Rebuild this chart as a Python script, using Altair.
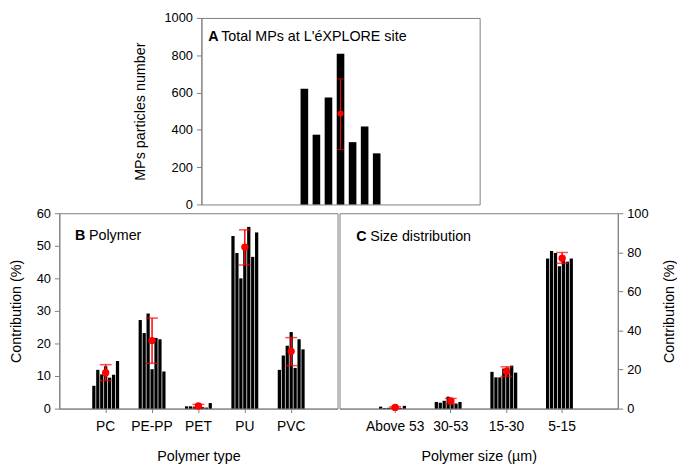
import altair as alt
import pandas as pd

# ---------------- data ----------------
samples = ["S1", "S2", "S3", "S4", "S5", "S6", "S7"]

# Panel A: total MPs per sample
total_mps = [620, 374, 573, 808, 334, 418, 274]
total_mean = [487]
total_lo = [295]
total_hi = [673]

# Panel B: polymer contribution (%) per sample
polymers = ["PC", "PE-PP", "PET", "PU", "PVC"]
poly_pc = [7.0, 11.9, 10.5, 13.0, 9.5, 10.4, 14.6]
poly_pepp = [27.2, 23.2, 29.2, 12.1, 21.7, 21.3, 11.4]
poly_pet = [0.7, 0.7, 0.6, 1.0, 0.5, 0.3, 1.7]
poly_pu = [53.0, 47.8, 40.0, 50.0, 55.8, 46.6, 54.1]
poly_pvc = [11.9, 16.3, 19.3, 23.5, 12.5, 21.3, 18.2]
poly_mean = [11.0, 20.9, 0.8, 49.6, 17.6]
poly_lo = [8.6, 13.9, 0.3, 44.1, 13.2]
poly_hi = [13.5, 27.8, 1.3, 54.9, 21.8]

# Panel C: size distribution (%) per sample
sizes = ["Above 53", "30-53", "15-30", "5-15"]
size_a53 = [1.0, 0.3, 0.4, 0.5, 0.3, 0.3, 1.4]
size_3053 = [3.4, 3.0, 4.0, 6.1, 2.5, 2.5, 3.4]
size_1530 = [18.8, 16.0, 16.0, 20.5, 21.0, 22.0, 18.4]
size_515 = [76.8, 80.7, 79.6, 72.9, 76.2, 75.2, 76.8]
size_mean = [0.6, 3.9, 19.0, 77.0]
size_lo = [0.2, 2.5, 16.5, 74.4]
size_hi = [1.0, 5.2, 21.4, 79.9]

# ---------------- tables ----------------
df_a = pd.DataFrame({"sample": samples, "value": total_mps})
df_a_err = pd.DataFrame({"sample": ["S4"], "mean": total_mean, "lo": total_lo, "hi": total_hi})

poly_series = [poly_pc, poly_pepp, poly_pet, poly_pu, poly_pvc]
df_b = pd.DataFrame([
    {"cat": p, "sample": s, "value": v}
    for p, vals in zip(polymers, poly_series)
    for s, v in zip(samples, vals)
])
df_b_err = pd.DataFrame({"cat": polymers, "mean": poly_mean, "lo": poly_lo, "hi": poly_hi})

size_series = [size_a53, size_3053, size_1530, size_515]
df_c = pd.DataFrame([
    {"cat": c, "sample": s, "value": v}
    for c, vals in zip(sizes, size_series)
    for s, v in zip(samples, vals)
])
df_c_err = pd.DataFrame({"cat": sizes, "mean": size_mean, "lo": size_lo, "hi": size_hi})

one = pd.DataFrame({"k": [0]})

GRAY = "#7f7f7f"
RED = "#ff0000"
W = 282
HA = 189
HB = 198
A_SPAN = 81  # pixel span occupied by the seven bars of panel A
TFS = 14.5   # panel title / axis title font size


def label(text, x, y, bold=False):
    return alt.Chart(one).mark_text(
        align="left", baseline="middle", fontSize=TFS,
        fontWeight="bold" if bold else "normal", color="black"
    ).encode(x=alt.value(x), y=alt.value(y), text=alt.value(text))


def spacer(x):
    return alt.Chart(one).mark_rule(color="white", strokeWidth=1).encode(
        x=alt.value(x), x2=alt.value(x + 1), y=alt.value(2)
    )


# ---------------- panel A ----------------
xa = alt.X("sample:N", sort=samples, axis=None,
           scale=alt.Scale(paddingInner=0.37, paddingOuter=0,
                           range=[W / 2 - A_SPAN / 2, W / 2 + A_SPAN / 2]))
ya_scale = alt.Scale(domain=[0, 1000])
ya_axis = alt.Axis(values=[0, 200, 400, 600, 800, 1000], format="d",
                   tickSize=5, labelPadding=4, titlePadding=17,
                   labelFontSize=13, titleFontSize=TFS)
ya_title = "MPs particles number"

a_bars = alt.Chart(df_a).mark_bar(color="black").encode(
    x=xa, y=alt.Y("value:Q", scale=ya_scale, axis=ya_axis, title=ya_title)
)
a_rule = alt.Chart(df_a_err).mark_rule(color=RED, strokeWidth=1).encode(
    x=xa, y=alt.Y("lo:Q", scale=ya_scale, axis=ya_axis, title=ya_title), y2="hi:Q"
)
a_lo = alt.Chart(df_a_err).mark_tick(color=RED, thickness=1, size=7).encode(
    x=xa, y=alt.Y("lo:Q", scale=ya_scale, axis=ya_axis, title=ya_title)
)
a_hi = alt.Chart(df_a_err).mark_tick(color=RED, thickness=1, size=7).encode(
    x=xa, y=alt.Y("hi:Q", scale=ya_scale, axis=ya_axis, title=ya_title)
)
a_dot = alt.Chart(df_a_err).mark_circle(color=RED, opacity=1, size=38).encode(
    x=xa, y=alt.Y("mean:Q", scale=ya_scale, axis=ya_axis, title=ya_title)
)
panel_a = alt.layer(
    a_bars, a_rule, a_lo, a_hi, a_dot,
    label("A", 7, 19, bold=True), label("Total MPs at L'éXPLORE site", 20, 19),
    spacer(-80),
).properties(width=W, height=HA)

# invisible spacer to the left of panel A
left_pad = alt.Chart(one).mark_rule(color="white", strokeWidth=1).encode(
    x=alt.value(0), x2=alt.value(1), y=alt.value(2)
).properties(width=63, height=HA, view=alt.ViewBackground(stroke=None))


# ---------------- generic B/C panel ----------------
def panel(df, df_err, cats, ydom, yvals, ytitle, xtitle, orient, off_pad,
          tletter, ttext, tx, ty, tpad, left_spacer):
    x_scale = alt.Scale(paddingInner=0.42, paddingOuter=0.71)
    x_axis = alt.Axis(labelAngle=0, tickSize=4, labelPadding=7, titlePadding=17,
                      labelFontSize=14, titleFontSize=TFS)
    x = alt.X("cat:N", sort=cats, scale=x_scale, axis=x_axis, title=xtitle)
    y_scale = alt.Scale(domain=ydom)
    axis_kw = dict(values=yvals, orient=orient, tickSize=5, labelPadding=4,
                   titlePadding=tpad, labelFontSize=13, titleFontSize=TFS)
    if orient == "right":
        axis_kw.update(titleAngle=270, titleBaseline="top")
    y_axis = alt.Axis(**axis_kw)

    def Y(f):
        return alt.Y(f, scale=y_scale, axis=y_axis, title=ytitle)

    bars = alt.Chart(df).mark_bar(color="black").encode(
        x=x,
        xOffset=alt.XOffset("sample:N", sort=samples,
                            scale=alt.Scale(paddingInner=off_pad, paddingOuter=0)),
        y=Y("value:Q"),
    )
    rule = alt.Chart(df_err).mark_rule(color=RED, strokeWidth=1.5).encode(
        x=x, y=Y("lo:Q"), y2="hi:Q"
    )
    lo = alt.Chart(df_err).mark_tick(color=RED, thickness=1.5, size=12).encode(x=x, y=Y("lo:Q"))
    hi = alt.Chart(df_err).mark_tick(color=RED, thickness=1.5, size=12).encode(x=x, y=Y("hi:Q"))
    dot = alt.Chart(df_err).mark_circle(color=RED, opacity=1, size=55).encode(x=x, y=Y("mean:Q"))
    layers = [bars, rule, lo, hi, dot,
              label(tletter, tx, ty, bold=True), label(ttext, tx + 14, ty)]
    if left_spacer is not None:
        layers.append(spacer(left_spacer))
    return alt.layer(*layers).properties(width=W, height=HB)


panel_b = panel(df_b, df_b_err, polymers, [0, 60], [0, 10, 20, 30, 40, 50, 60],
                "Contribution (%)", "Polymer type", "left", 0.18,
                "B", "Polymer", 16, 23, 13, -51)
panel_c = panel(df_c, df_c_err, sizes, [0, 100], [0, 20, 40, 60, 80, 100],
                "Contribution (%)", "Polymer size (µm)", "right", 0.3,
                "C", "Size distribution", 17, 24, 15, None)

chart = alt.vconcat(
    alt.hconcat(left_pad, panel_a, spacing=0),
    alt.hconcat(panel_b, panel_c, spacing=0),
    spacing=-6.1,
).properties(padding=0).configure(
    font="Liberation Sans"
).configure_view(
    stroke=GRAY, strokeWidth=1
).configure_axis(
    grid=False, domainColor=GRAY, tickColor=GRAY, labelColor="black",
    titleColor="black", titleFontWeight="normal", labelFont="Liberation Sans",
    titleFont="Liberation Sans"
)

chart.save("out.html", embed_options={"renderer": "svg", "actions": False})
